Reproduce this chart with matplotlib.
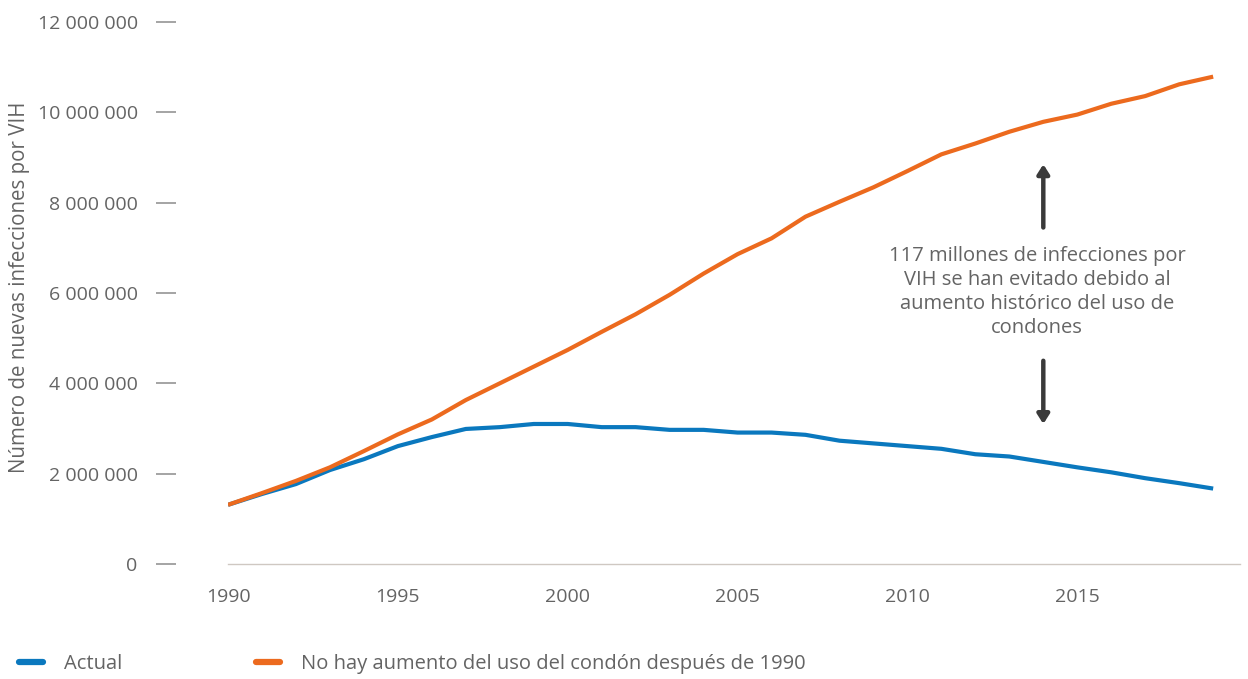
import matplotlib
matplotlib.use("Agg")
import matplotlib.pyplot as plt
from matplotlib.ticker import FuncFormatter, MultipleLocator

plt.rcParams['font.family'] = ['Open Sans', 'DejaVu Sans']

# New HIV infections per year, 1990-2019
years = list(range(1990, 2020))
actual = [1.31, 1.55, 1.77, 2.08, 2.32, 2.61, 2.81, 2.99, 3.03, 3.10,
          3.10, 3.03, 3.03, 2.97, 2.97, 2.91, 2.91, 2.86, 2.73, 2.67,
          2.61, 2.55, 2.43, 2.38, 2.26, 2.14, 2.03, 1.90, 1.79, 1.67]
no_condom = [1.31, 1.57, 1.84, 2.14, 2.50, 2.87, 3.20, 3.63, 4.00, 4.37,
             4.74, 5.14, 5.53, 5.96, 6.43, 6.86, 7.21, 7.69, 8.02, 8.34,
             8.70, 9.07, 9.31, 9.57, 9.79, 9.95, 10.19, 10.36, 10.62, 10.79]
actual = [v * 1e6 for v in actual]
no_condom = [v * 1e6 for v in no_condom]

x_ticks = [1990, 1995, 2000, 2005, 2010, 2015]
series_labels = ["Actual", "No hay aumento del uso del condón después de 1990"]
note = ("117 millones de infecciones por\nVIH se han evitado debido al\n"
        "aumento histórico del uso de\ncondones")

BLUE = "#0a78be"
ORANGE = "#ec6a1e"
TEXT = "#646464"

fig = plt.figure(figsize=(12.48, 6.79), dpi=100)
ax = fig.add_axes([228 / 1248, 115 / 679, 1012 / 1248, 542 / 679])

l1, = ax.plot(years, actual, color=BLUE, lw=3.0, solid_capstyle='butt', zorder=3)
l2, = ax.plot(years, no_condom, color=ORANGE, lw=3.0, solid_capstyle='butt', zorder=3)

ax.set_xlim(1990, 2019.79)
ax.set_ylim(0, 12e6)

for s in ['top', 'right']:
    ax.spines[s].set_visible(False)
ax.spines['bottom'].set_color('#cfc8c2')
ax.spines['bottom'].set_linewidth(1.0)
# y ticks sit apart from the plot area, no visible spine
ax.spines['left'].set_position(('outward', 37.5))
ax.spines['left'].set_visible(False)

ax.yaxis.set_major_locator(MultipleLocator(2e6))
ax.yaxis.set_major_formatter(FuncFormatter(lambda v, p: f"{v:,.0f}".replace(",", " ")))
ax.tick_params(axis='y', length=14.5, width=1.1, color='#8c8c8c', pad=13,
               labelsize=14, labelcolor=TEXT)
ax.set_xticks(x_ticks)
ax.tick_params(axis='x', length=0, pad=17, labelsize=14, labelcolor=TEXT)

ax.set_ylabel("Número de nuevas infecciones por VIH", fontsize=14.8, color=TEXT)
ax.yaxis.set_label_coords(-0.1955, 0.51)

# annotation with arrows pointing at both curves
ax.text(2013.82, 6.02e6, note, ha='center', va='center', fontsize=14.5,
        color=TEXT, linespacing=1.28)
arrow = dict(arrowstyle='-|>,head_length=0.55,head_width=0.35', lw=3.2,
             color='#3a3a3a', shrinkA=0, shrinkB=0)
ax.annotate("", xy=(2014.0, 8.85e6), xytext=(2014.0, 7.45e6), arrowprops=arrow)
ax.annotate("", xy=(2014.0, 3.1e6), xytext=(2014.0, 4.5e6), arrowprops=arrow)

leg = fig.legend([l1, l2], series_labels, loc='center left',
                 bbox_to_anchor=(11 / 1248, 1 - 664 / 679), ncol=2, frameon=False,
                 fontsize=14.5, handlelength=1.2, handletextpad=1.05,
                 columnspacing=6.6, borderaxespad=0)
for t in leg.get_texts():
    t.set_color(TEXT)
for h in leg.legend_handles:
    h.set_linewidth(4.5)
    h.set_solid_capstyle('round')

fig.savefig("out.png", dpi=100)
